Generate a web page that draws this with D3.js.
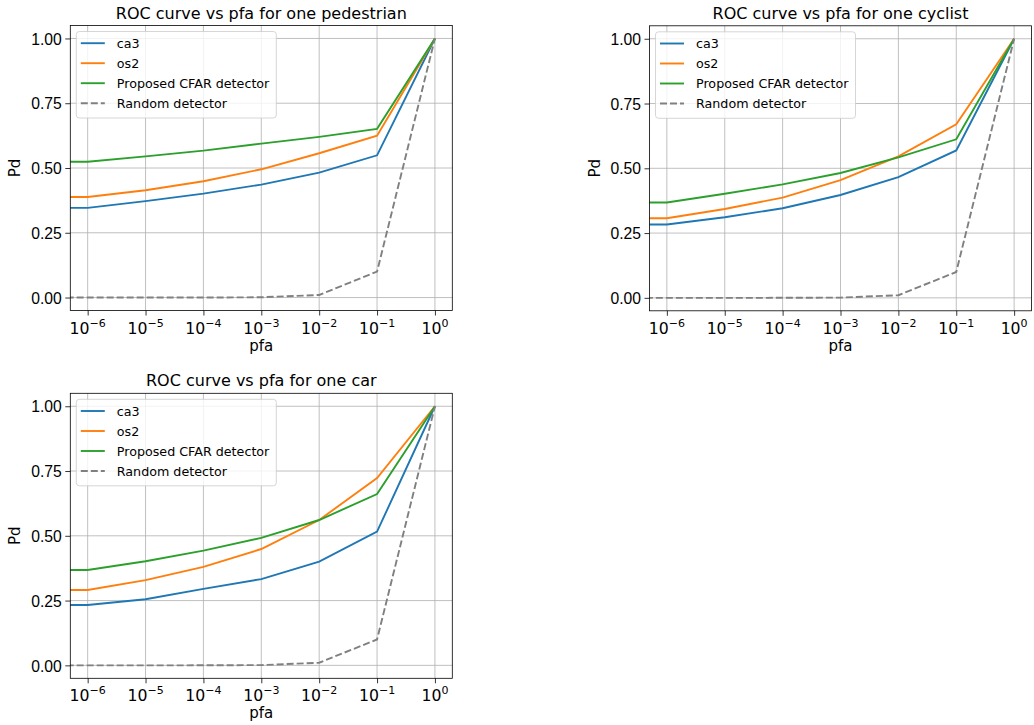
<!DOCTYPE html>
<html>
<head>
<meta charset="utf-8">
<script src="https://cdn.jsdelivr.net/npm/d3@7"></script>
<style>
  body { margin: 0; background: #fff; }
  svg { font-family: "DejaVu Sans", sans-serif; }
</style>
</head>
<body>
<svg id="fig" width="1034" height="725"></svg>
<script>
// pfa values (0 is clipped to the left edge by the log axis, like matplotlib)
const pfa = [0, 1e-6, 1e-5, 1e-4, 1e-3, 1e-2, 1e-1, 1]
const xTicks = [1e-6, 1e-5, 1e-4, 1e-3, 1e-2, 1e-1, 1]
const yTicks = [0, 0.25, 0.5, 0.75, 1.0]

const seriesNames = ["ca3", "os2", "Proposed CFAR detector", "Random detector"]
const seriesColors = ["#1f77b4", "#ff7f0e", "#2ca02c", "#808080"]

// Pd readings
const pedCa3  = [0.346, 0.346, 0.372, 0.401, 0.436, 0.482, 0.549, 1.0]
const pedOs2  = [0.388, 0.388, 0.414, 0.449, 0.495, 0.557, 0.625, 1.0]
const pedCfar = [0.524, 0.524, 0.545, 0.567, 0.594, 0.620, 0.651, 1.0]

const cycCa3  = [0.283, 0.283, 0.311, 0.346, 0.397, 0.466, 0.569, 1.0]
const cycOs2  = [0.307, 0.307, 0.343, 0.387, 0.454, 0.546, 0.670, 1.0]
const cycCfar = [0.368, 0.368, 0.402, 0.438, 0.482, 0.542, 0.612, 1.0]

const carCa3  = [0.233, 0.233, 0.255, 0.295, 0.333, 0.400, 0.516, 1.0]
const carOs2  = [0.291, 0.291, 0.329, 0.380, 0.449, 0.561, 0.723, 1.0]
const carCfar = [0.368, 0.368, 0.402, 0.443, 0.492, 0.561, 0.661, 1.0]

const randomPd = [0, 1e-6, 1e-5, 1e-4, 1e-3, 1e-2, 1e-1, 1.0]

const titles = ["ROC curve vs pfa for one pedestrian", "ROC curve vs pfa for one cyclist", "ROC curve vs pfa for one car"]

let panels = [
    { title: titles[0], x: 70.3, y: 25.5, series: [pedCa3, pedOs2, pedCfar, randomPd] },
    { title: titles[1], x: 649.5, y: 25.8, series: [cycCa3, cycOs2, cycCfar, randomPd] },
    { title: titles[2], x: 70.3, y: 393.3, series: [carCa3, carOs2, carCfar, randomPd] }
]

const W = 382, H = 285
const svg = d3.select("#fig")

let supMinus = n => "\u2212" + Math.abs(n)

panels.forEach((p, pi) => {

    let g = svg.append("g").attr("transform", "translate(" + p.x + "," + p.y + ")")

    // 5% margins like matplotlib, in log space for x
    let xScale = d3.scaleLog().domain([Math.pow(10, -6.3), Math.pow(10, 0.3)]).range([0, W])
    let yScale = d3.scaleLinear().domain([-0.05, 1.05]).range([H, 0])

    let clipId = "clip" + pi
    g.append("clipPath").attr("id", clipId)
        .append("rect").attr("width", W).attr("height", H)

    // grid
    g.append("g").selectAll("line").data(xTicks).enter().append("line")
        .attr("x1", d => xScale(d)).attr("x2", d => xScale(d))
        .attr("y1", 0).attr("y2", H)
        .attr("stroke", "#b0b0b0").attr("stroke-width", 0.8)
    g.append("g").selectAll("line").data(yTicks).enter().append("line")
        .attr("y1", d => yScale(d)).attr("y2", d => yScale(d))
        .attr("x1", 0).attr("x2", W)
        .attr("stroke", "#b0b0b0").attr("stroke-width", 0.8)

    // lines
    let xPos = d => d <= 0 ? xScale(xScale.domain()[0] / 1000) : xScale(d)
    let lines = g.append("g").attr("clip-path", "url(#" + clipId + ")")
    p.series.forEach((vals, si) => {
        let line = d3.line().x((d, i) => xPos(pfa[i])).y(d => yScale(d))
        lines.append("path")
            .attr("d", line(vals))
            .attr("fill", "none")
            .attr("stroke", seriesColors[si])
            .attr("stroke-width", 1.9)
            .attr("stroke-dasharray", si == 3 ? "7,3" : null)
    })

    // axes
    let xAxis = g.append("g").attr("transform", "translate(0," + H + ")")
        .call(d3.axisBottom(xScale).tickValues(xTicks).tickSize(5).tickFormat(""))
    let yAxis = g.append("g")
        .call(d3.axisLeft(yScale).tickValues(yTicks).tickSize(5).tickFormat(d3.format(".2f")))
    ;[xAxis, yAxis].forEach(a => {
        a.select(".domain").remove()
        a.selectAll("line").attr("stroke", "#000").attr("stroke-width", 0.8)
    })
    yAxis.selectAll("text").attr("font-size", 15.7).attr("fill", "#000").attr("x", -8.5).attr("dy", "0.36em")

    // x tick labels 10^n
    let xl = g.append("g")
    xTicks.forEach(t => {
        let e = Math.round(Math.log10(t))
        let txt = xl.append("text")
            .attr("x", xScale(t)).attr("y", H + 23)
            .attr("text-anchor", "middle").attr("font-size", 15.7)
        txt.append("tspan").text("10")
        txt.append("tspan").attr("font-size", 11).attr("dy", -7)
            .text(e < 0 ? supMinus(e) : String(e))
    })

    // frame
    g.append("rect").attr("width", W).attr("height", H)
        .attr("fill", "none").attr("stroke", "#000").attr("stroke-width", 0.8)

    // labels
    g.append("text").attr("x", W / 2).attr("y", -7)
        .attr("text-anchor", "middle").attr("font-size", 16).text(p.title)
    g.append("text").attr("x", W / 2).attr("y", H + 40)
        .attr("text-anchor", "middle").attr("font-size", 15).text("pfa")
    g.append("text")
        .attr("transform", "translate(-50," + (H / 2) + ") rotate(-90)")
        .attr("text-anchor", "middle").attr("font-size", 15).text("Pd")

    // legend
    let lg = g.append("g").attr("transform", "translate(6,6)")
    lg.append("rect").attr("width", 200).attr("height", 86.5).attr("rx", 3)
        .attr("fill", "#fff").attr("fill-opacity", 0.8)
        .attr("stroke", "#cccccc").attr("stroke-width", 0.8)
    seriesNames.forEach((name, i) => {
        let yy = 11.7 + i * 20
        lg.append("line").attr("x1", 4.5).attr("x2", 28.5).attr("y1", yy).attr("y2", yy)
            .attr("stroke", seriesColors[i]).attr("stroke-width", 1.9)
            .attr("stroke-dasharray", i == 3 ? "7,3" : null)
        lg.append("text").attr("x", 40.5).attr("y", yy).attr("dy", "0.36em")
            .attr("font-size", 12.7).text(name)
    })
})
</script>
</body>
</html>
